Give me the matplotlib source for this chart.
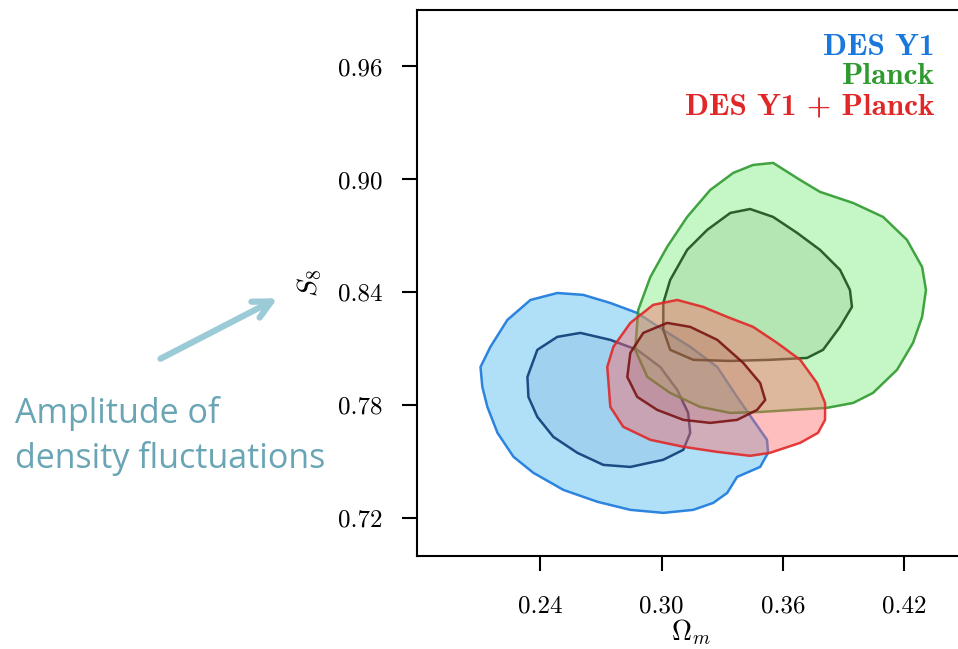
import matplotlib
matplotlib.use("Agg")
import matplotlib.pyplot as plt
from matplotlib.patches import Polygon, FancyArrowPatch

plt.rcParams["mathtext.fontset"] = "cm"

# ---- contour outlines (Omega_m, S8) ----
des_outer_om = [0.2104, 0.2153, 0.2237, 0.2351, 0.2484, 0.2612, 0.2746, 0.2879, 0.3008, 0.3141,
                0.3275, 0.3373, 0.3452, 0.3521, 0.3526, 0.3487, 0.3373, 0.3324, 0.3255, 0.3156,
                0.3008, 0.2845, 0.2682, 0.2514, 0.2365, 0.2267, 0.2188, 0.2138, 0.2113]
des_outer_s8 = [0.8004, 0.8111, 0.8254, 0.8360, 0.8397, 0.8387, 0.8344, 0.8291, 0.8201, 0.8111,
                0.8004, 0.7845, 0.7723, 0.7617, 0.7548, 0.7473, 0.7420, 0.7335, 0.7282, 0.7245,
                0.7229, 0.7245, 0.7288, 0.7351, 0.7442, 0.7527, 0.7654, 0.7792, 0.7898]
des_inner_om = [0.2336, 0.2385, 0.2484, 0.2598, 0.2746, 0.2879, 0.2993, 0.3077, 0.3131, 0.3141,
                0.3107, 0.3008, 0.2845, 0.2711, 0.2583, 0.2464, 0.2385, 0.2341]
des_inner_s8 = [0.7951, 0.8095, 0.8164, 0.8185, 0.8148, 0.8095, 0.8004, 0.7882, 0.7760, 0.7654,
                0.7564, 0.7511, 0.7473, 0.7484, 0.7548, 0.7633, 0.7739, 0.7845]

planck_outer_om = [0.3551, 0.3685, 0.3783, 0.3947, 0.4095, 0.4213, 0.4288, 0.4307, 0.4288, 0.4243,
                   0.4164, 0.4045, 0.3947, 0.3818, 0.3650, 0.3487, 0.3339, 0.3190, 0.3042, 0.2929,
                   0.2869, 0.2884, 0.2944, 0.3027, 0.3126, 0.3240, 0.3354, 0.3452]
planck_outer_s8 = [0.9088, 0.8997, 0.8934, 0.8875, 0.8801, 0.8679, 0.8535, 0.8413, 0.8270, 0.8132,
                   0.7989, 0.7866, 0.7813, 0.7787, 0.7776, 0.7765, 0.7760, 0.7792, 0.7866, 0.7951,
                   0.8095, 0.8307, 0.8482, 0.8642, 0.8801, 0.8944, 0.9035, 0.9077]
planck_inner_om = [0.3437, 0.3551, 0.3670, 0.3783, 0.3882, 0.3931, 0.3941, 0.3882, 0.3798, 0.3719,
                   0.3536, 0.3339, 0.3156, 0.3042, 0.3008, 0.3008, 0.3042, 0.3126, 0.3225, 0.3339]
planck_inner_s8 = [0.8843, 0.8801, 0.8716, 0.8626, 0.8520, 0.8413, 0.8323, 0.8217, 0.8095, 0.8052,
                   0.8042, 0.8036, 0.8042, 0.8095, 0.8201, 0.8344, 0.8466, 0.8626, 0.8732, 0.8822]

comb_outer_om = [0.2731, 0.2761, 0.2845, 0.2958, 0.3077, 0.3205, 0.3324, 0.3452, 0.3571, 0.3685,
                 0.3768, 0.3808, 0.3808, 0.3773, 0.3685, 0.3536, 0.3437, 0.3275, 0.3107, 0.2944,
                 0.2810, 0.2746]
comb_outer_s8 = [0.8004, 0.8111, 0.8238, 0.8334, 0.8360, 0.8323, 0.8270, 0.8217, 0.8132, 0.8042,
                 0.7919, 0.7813, 0.7723, 0.7654, 0.7601, 0.7548, 0.7532, 0.7553, 0.7580, 0.7617,
                 0.7686, 0.7792]
comb_inner_om = [0.2830, 0.2845, 0.2909, 0.3027, 0.3141, 0.3275, 0.3403, 0.3487, 0.3512, 0.3472,
                 0.3373, 0.3240, 0.3107, 0.2978, 0.2879]
comb_inner_s8 = [0.7951, 0.8079, 0.8185, 0.8238, 0.8217, 0.8148, 0.8026, 0.7919, 0.7829, 0.7776,
                 0.7723, 0.7707, 0.7723, 0.7776, 0.7845]

xticks = [0.24, 0.30, 0.36, 0.42]
yticks = [0.72, 0.78, 0.84, 0.90, 0.96]
labels = ["DES Y1", "Planck", "DES Y1 + Planck"]

# (outer face, face alpha, inner shade, outer edge, inner edge)
styles = [
    ("#63c2f2", 0.5, "#1f5fa0", "#1a78dc", "#0d3c78"),
    ("#80ec80", 0.45, "#2a6a2a", "#2f9a2f", "#1b4f1b"),
    ("#ff6464", 0.42, "#801818", "#e02828", "#7a1414"),
]
contours = [
    (des_outer_om, des_outer_s8, des_inner_om, des_inner_s8),
    (planck_outer_om, planck_outer_s8, planck_inner_om, planck_inner_s8),
    (comb_outer_om, comb_outer_s8, comb_inner_om, comb_inner_s8),
]

fig = plt.figure(figsize=(9.58, 6.49), dpi=100)
ax = fig.add_axes([417 / 958, 93 / 649, 548 / 958, 546 / 649])

for (oxs, oys, ixs, iys), (face, falpha, shade, edge, iedge) in zip(contours, styles):
    ax.add_patch(Polygon(list(zip(oxs, oys)), closed=True, facecolor=face, alpha=falpha, edgecolor="none"))
    ax.add_patch(Polygon(list(zip(ixs, iys)), closed=True, facecolor=shade, alpha=0.11, edgecolor="none"))
    ax.add_patch(Polygon(list(zip(oxs, oys)), closed=True, fill=False, edgecolor=edge, lw=1.8,
                         alpha=0.9, joinstyle="round"))
    ax.add_patch(Polygon(list(zip(ixs, iys)), closed=True, fill=False, edgecolor=iedge, lw=1.8,
                         alpha=0.9, joinstyle="round"))

ax.set_xlim(0.179, 0.45)
ax.set_ylim(0.70, 0.99)

ax.set_xticks(xticks)
ax.set_xticklabels(["%.2f" % v for v in xticks], fontfamily="cmr10", fontsize=18)
ax.set_yticks(yticks)
ax.set_yticklabels(["%.2f" % v for v in yticks], fontfamily="cmr10", fontsize=18)
ax.tick_params(direction="out", length=11, width=1.5)
ax.tick_params(axis="y", pad=14)
ax.tick_params(axis="x", pad=17)
for s in ax.spines.values():
    s.set_linewidth(1.5)

ax.set_xlabel(r"$\Omega_m$", fontsize=20, labelpad=0)
ax.set_ylabel(r"$S_8$", fontsize=20, labelpad=10)

# text legend, top right
legend_y = [0.932, 0.878, 0.823]
for lab, yy, st in zip(labels, legend_y, styles):
    ax.text(0.945, yy, lab, transform=ax.transAxes, ha="right", va="center",
            fontfamily="cmb10", fontsize=22.5, color=st[3])

# annotation on the left
ann_color = "#6aa5b5"
fig.text(15 / 958, 1 - 423 / 649, "Amplitude of", fontsize=24.5, color=ann_color,
         fontfamily="Open Sans", va="baseline", ha="left")
fig.text(15 / 958, 1 - 468 / 649, "density fluctuations", fontsize=24.5, color=ann_color,
         fontfamily="Open Sans", va="baseline", ha="left")
fig.add_artist(FancyArrowPatch(
    (158 / 958, 1 - 360 / 649), (280 / 958, 1 - 297 / 649), transform=fig.transFigure,
    arrowstyle="->", mutation_scale=32, lw=4.5, color="#9ccbd8"))

fig.savefig("out.png", dpi=100)
